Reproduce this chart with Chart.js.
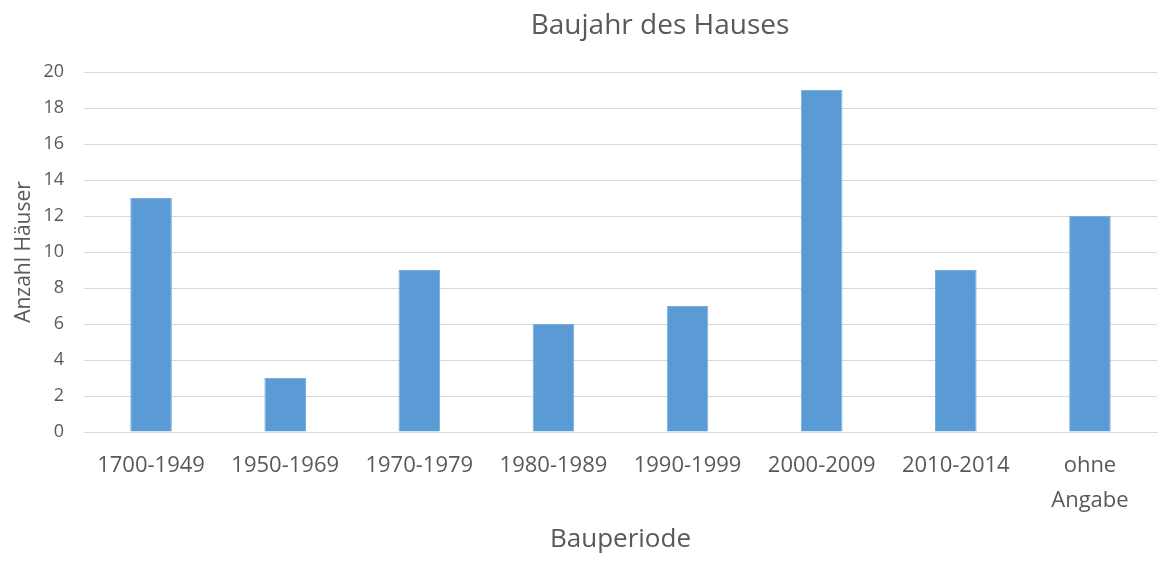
<!DOCTYPE html>
<html>
<head>
<meta charset="utf-8">
<script src="https://cdn.jsdelivr.net/npm/chart.js@4"></script>
<style>
  html, body { margin: 0; padding: 0; background: #fff; }
  #wrap { width: 1167px; height: 561px; }
</style>
</head>
<body>
<div id="wrap"><canvas id="grafico"></canvas></div>
<script>
const kategorien = ['1700-1949', '1950-1969', '1970-1979', '1980-1989', '1990-1999', '2000-2009', '2010-2014', ['ohne', 'Angabe']];
const anzahlHaeuser = [13, 3, 9, 6, 7, 19, 9, 12];
const yTicks = [0, 2, 4, 6, 8, 10, 12, 14, 16, 18, 20];

const textFarbe = '#595959';
const schrift = '"Open Sans", "Liberation Sans", sans-serif';

// Titel etwas rechts von der Mitte, wie im Original
const titelPlugin = {
  id: 'titel',
  afterDraw(chart) {
    const c = chart.ctx;
    c.save();
    c.font = '28px ' + schrift;
    c.fillStyle = textFarbe;
    c.textAlign = 'center';
    c.textBaseline = 'middle';
    c.fillText('Baujahr des Hauses', 660, 26);
    c.restore();
  }
};

const ctx = document.getElementById('grafico').getContext('2d');
new Chart(ctx, {
  type: 'bar',
  data: {
    labels: kategorien,
    datasets: [{
      label: 'Anzahl Häuser',
      data: anzahlHaeuser,
      backgroundColor: '#5B9BD5',
      borderColor: '#79ADDC',
      borderWidth: 1,
      categoryPercentage: 1,
      barPercentage: 0.31
    }]
  },
  options: {
    responsive: true,
    maintainAspectRatio: false,
    animation: false,
    layout: { padding: { top: 72, right: 10, left: 0, bottom: 0 } },
    plugins: {
      legend: { display: false },
      tooltip: { enabled: false }
    },
    scales: {
      x: {
        grid: { display: false, drawTicks: false },
        border: { color: '#D9D9D9', width: 1 },
        ticks: {
          color: textFarbe,
          font: { family: schrift, size: 22, lineHeight: 1.6 },
          padding: 16,
          maxRotation: 0,
          autoSkip: false
        },
        title: {
          display: true,
          text: 'Bauperiode',
          color: textFarbe,
          font: { family: schrift, size: 26 },
          padding: { top: 0, bottom: 6 }
        },
        afterFit(s) { s.height = 561 - 432; }
      },
      y: {
        min: 0,
        max: 20,
        afterBuildTicks(s) { s.ticks = yTicks.map(v => ({ value: v })); },
        grid: { color: '#D9D9D9', drawTicks: false },
        border: { display: false },
        ticks: {
          color: textFarbe,
          font: { family: schrift, size: 18 },
          padding: 20
        },
        title: {
          display: true,
          text: 'Anzahl Häuser',
          color: textFarbe,
          font: { family: schrift, size: 21 },
          padding: { top: 11, bottom: 0 }
        },
        afterFit(s) { s.width = 84; }
      }
    }
  },
  plugins: [titelPlugin]
});
</script>
</body>
</html>
